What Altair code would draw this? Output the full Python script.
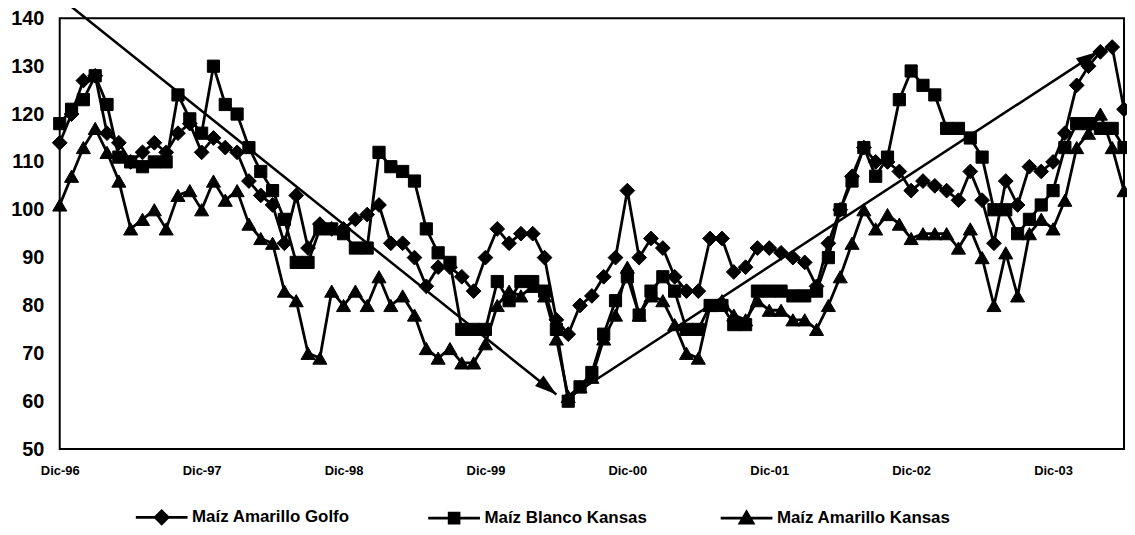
import json
import math
import altair as alt
import pandas as pd

# ---------------- data ----------------
meses = list(range(91))  # months after Dec-1996

golfo = [114, 120, 127, 128, 116, 114, 110, 112, 114, 112,
         116, 118, 112, 115, 113, 112, 106, 103, 101, 93,
         103, 92, 97, 96, 96, 98, 99, 101, 93, 93,
         90, 84, 88, 88, 86, 83, 90, 96, 93, 95,
         95, 90, 77, 74, 80, 82, 86, 90, 104, 90,
         94, 92, 86, 83, 83, 94, 94, 87, 88, 92,
         92, 91, 90, 89, 84, 93, 100, 107, 113, 110,
         110, 108, 104, 106, 105, 104, 102, 108, 102, 93,
         106, 101, 109, 108, 110, 116, 126, 130, 133, 134,
         121]

blanco = [118, 121, 123, 128, 122, 111, 110, 109, 110, 110,
          124, 119, 116, 130, 122, 120, 113, 108, 104, 98,
          89, 89, 96, 96, 95, 92, 92, 112, 109, 108,
          106, 96, 91, 89, 75, 75, 75, 85, 81, 85,
          85, 83, 75, 60, 63, 66, 74, 81, 86, 78,
          83, 86, 83, 75, 75, 80, 80, 76, 76, 83,
          83, 83, 82, 82, 83, 90, 100, 106, 113, 107,
          111, 123, 129, 126, 124, 117, 117, 115, 111, 100,
          100, 95, 98, 101, 104, 113, 118, 118, 117, 117,
          113]

kansas = [101, 107, 113, 117, 112, 106, 96, 98, 100, 96,
          103, 104, 100, 106, 102, 104, 97, 94, 93, 83,
          81, 70, 69, 83, 80, 83, 80, 86, 80, 82,
          78, 71, 69, 71, 68, 68, 72, 80, 83, 82,
          84, 82, 73, 61, 63, 65, 73, 78, 88, 78,
          82, 81, 76, 70, 69, 80, 81, 78, 77, 81,
          79, 79, 77, 77, 75, 80, 86, 93, 100, 96,
          99, 97, 94, 95, 95, 95, 92, 96, 90, 80,
          91, 82, 95, 98, 96, 102, 113, 116, 120, 113,
          104]

series = ["Maíz Amarillo Golfo", "Maíz Blanco Kansas", "Maíz Amarillo Kansas"]
tick_meses = [0, 12, 24, 36, 48, 60, 72, 84]
tick_etiquetas = ["Dic-96", "Dic-97", "Dic-98", "Dic-99",
                  "Dic-00", "Dic-01", "Dic-02", "Dic-03"]
y_ticks = [50, 60, 70, 80, 90, 100, 110, 120, 130, 140]

# trend arrows (start / end in data units)
flecha_mes_ini = [0.7, 43.5]
flecha_val_ini = [143.0, 61.5]
flecha_mes_fin = [42.0, 87.8]
flecha_val_fin = [61.4, 133.0]

# ---------------- layout / style ----------------
W, H = 1070, 433
XMIN, XMAX = 0, 90
YMIN, YMAX = 50, 140
FONT = "Liberation Sans"

marcadores = ["diamond", "square", "triangle-up"]
tamanos = [220, 150, 200]
legend_paths = [
    "M-1,0L1,0M0,-0.25L0.25,0L0,0.25L-0.25,0Z",
    "M-1,0L1,0M-0.19,-0.19L0.19,-0.19L0.19,0.19L-0.19,0.19Z",
    "M-1,0L1,0M0,-0.24L0.25,0.19L-0.25,0.19Z",
]
ARROW = "M0,0L-2,-0.62L-2,0.62Z"

rows = []
for s, vals in zip(series, [golfo, blanco, kansas]):
    for m, v in zip(meses, vals):
        rows.append({"mes": m, "valor": v, "serie": s})
df = pd.DataFrame(rows)

px_x = W / (XMAX - XMIN)
px_y = H / (YMAX - YMIN)
angulos = [
    math.degrees(math.atan2(-(y1 - y0) * px_y, (x1 - x0) * px_x)) % 360
    for x0, y0, x1, y1 in zip(flecha_mes_ini, flecha_val_ini, flecha_mes_fin, flecha_val_fin)
]
df_fl = pd.DataFrame({
    "x0": flecha_mes_ini, "y0": flecha_val_ini,
    "x1": flecha_mes_fin, "y1": flecha_val_fin,
    "ang": angulos,
})

xscale = alt.Scale(domain=[XMIN, XMAX], nice=False, zero=False)
yscale = alt.Scale(domain=[YMIN, YMAX], nice=False, zero=False)
xaxis = alt.Axis(
    values=tick_meses,
    labelExpr=f"{json.dumps(tick_etiquetas)}[round(datum.value/12)]",
    title=None, ticks=False, domain=False, grid=False,
    labelFont=FONT, labelFontSize=13, labelFontWeight="bold", labelColor="black",
    labelPadding=16, labelAngle=0, labelFlush=False, labelOverlap=False,
)
yaxis = alt.Axis(
    values=y_ticks, title=None, ticks=False, domain=False, grid=False,
    labelFont=FONT, labelFontSize=20, labelFontWeight="bold", labelColor="black",
    labelPadding=16, labelFlush=False, labelOverlap=False,
)


def X(field):
    return alt.X(field, scale=xscale, axis=xaxis)


def Y(field):
    return alt.Y(field, scale=yscale, axis=yaxis)


base = alt.Chart(df)
layers = []

# trend arrows
fl = alt.Chart(df_fl)
layers.append(
    fl.mark_rule(color="black", strokeWidth=2.5).encode(
        x=X("x0:Q"), y=Y("y0:Q"), x2="x1:Q", y2="y1:Q"
    )
)
layers.append(
    fl.mark_point(shape=ARROW, filled=True, color="black", opacity=1, size=484).encode(
        x=X("x1:Q"), y=Y("y1:Q"), angle=alt.Angle("ang:Q", scale=None)
    )
)

for s, shp, sz in zip(series, marcadores, tamanos):
    sub = base.transform_filter(alt.datum.serie == s)
    layers.append(
        sub.mark_line(color="black", strokeWidth=2.8).encode(x=X("mes:Q"), y=Y("valor:Q"))
    )
    layers.append(
        sub.mark_point(shape=shp, filled=True, color="black", opacity=1, size=sz,
                       stroke="black", strokeWidth=1).encode(x=X("mes:Q"), y=Y("valor:Q"))
    )

# legend (line + marker symbols)
layers.append(
    base.transform_filter("false").mark_point(
        filled=False, fill="black", stroke="black", strokeWidth=2.8, opacity=1
    ).encode(
        x=X("mes:Q"), y=Y("valor:Q"),
        shape=alt.Shape(
            "serie:N",
            scale=alt.Scale(domain=series, range=legend_paths),
            legend=alt.Legend(
                title=None, orient="none", legendX=75, legendY=474,
                direction="horizontal", gridAlign="all",
                symbolSize=2704, symbolStrokeWidth=2.8,
                symbolOpacity=1,
                labelFont=FONT, labelFontSize=17, labelFontWeight="bold",
                labelColor="black", labelOffset=3, labelLimit=400,
                columnPadding=56,
            ),
        ),
    )
)

chart = (
    alt.layer(*layers)
    .properties(
        width=W, height=H,
        padding={"left": 52, "top": 9, "right": 3, "bottom": 80},
        autosize=alt.AutoSizeParams(type="none"),
        background="white",
    )
    .configure_view(stroke="black", strokeWidth=2)
)

chart.save("out.html", embed_options={"renderer": "svg", "actions": False})
